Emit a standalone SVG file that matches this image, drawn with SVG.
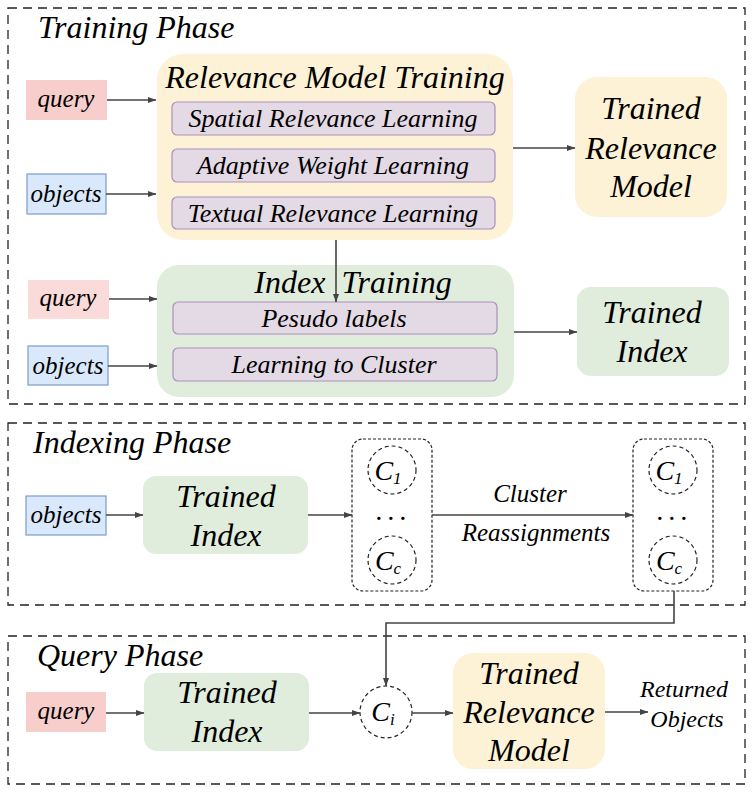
<svg xmlns="http://www.w3.org/2000/svg" width="754" height="795" viewBox="0 0 754 795">
<style>
text{font-family:"Liberation Serif","Times New Roman",serif;font-style:italic;fill:#000;text-anchor:middle}
.phase{fill:none;stroke:#222;stroke-width:1.3;stroke-dasharray:9 6}
.yel{fill:#fdf2d6}
.grn{fill:#e1eddc}
.sub{fill:#e4dae5;stroke:#ab8fbb;stroke-width:1.2}
.qry{fill:#f8cecc}
.obj{fill:#dae8fc;stroke:#7c9cc9;stroke-width:1.2}
.clu{fill:none;stroke:#222;stroke-width:1.2;stroke-dasharray:3 2}
.cir{fill:#fff;stroke:#222;stroke-width:1.2;stroke-dasharray:4 3}
.big{font-size:32px}
.mid{font-size:26px}
.sm{font-size:25px}
.ttl{font-size:32px;text-anchor:start}
.cl{font-size:28px}
.con{fill:none;stroke:#444;stroke-width:1.6;marker-end:url(#ah)}
</style>
<defs>
<marker id="ah" markerWidth="9" markerHeight="8" refX="8.5" refY="4" orient="auto" markerUnits="userSpaceOnUse">
<path d="M0,0.8 L9,4 L0,7.2 Z" fill="#444"/>
</marker>
</defs>

<g id="training-phase">
<rect class="phase" x="8" y="8" width="737" height="396"/>
<text class="ttl" x="38" y="38">Training Phase</text>
</g>
<g id="indexing-phase">
<rect class="phase" x="8" y="423" width="737" height="182"/>
<text class="ttl" x="33" y="453">Indexing Phase</text>
</g>
<g id="query-phase">
<rect class="phase" x="8" y="636" width="737" height="148"/>
<text class="ttl" x="37" y="666">Query Phase</text>
</g>

<g id="query-1">
<rect class="qry" x="26" y="80" width="81" height="40"/>
<text class="sm" x="66" y="107">query</text>
</g>
<g id="objects-1">
<rect class="obj" x="27" y="174" width="79" height="40"/>
<text class="sm" x="66" y="202">objects</text>
</g>
<g id="relevance-model-training">
<rect class="yel" x="157" y="54" width="356" height="186" rx="26"/>
<text class="big" x="335" y="88">Relevance Model Training</text>
<rect class="sub" x="172" y="102" width="323" height="33" rx="5"/>
<text class="mid" x="333" y="127">Spatial Relevance Learning</text>
<rect class="sub" x="172" y="149" width="323" height="33" rx="5"/>
<text class="mid" x="333" y="174">Adaptive Weight Learning</text>
<rect class="sub" x="172" y="197" width="323" height="32" rx="5"/>
<text class="mid" x="333" y="222">Textual Relevance Learning</text>
</g>
<g id="trained-relevance-model-1">
<rect class="yel" x="575" y="77" width="152" height="140" rx="22"/>
<text class="big" x="651" y="119">Trained</text>
<text class="big" x="651" y="159">Relevance</text>
<text class="big" x="651" y="197">Model</text>
</g>

<g id="query-2">
<rect fill="#fadbd9" x="28" y="280" width="81" height="39"/>
<text class="sm" x="68" y="306">query</text>
</g>
<g id="objects-2">
<rect class="obj" x="28" y="346" width="80" height="39"/>
<text class="sm" x="68" y="374">objects</text>
</g>
<g id="index-training">
<rect class="grn" x="157" y="265" width="357" height="132" rx="22"/>
<text class="big" xml:space="preserve" x="353" y="293">Index  Training</text>
<rect class="sub" x="173" y="302" width="324" height="32" rx="5"/>
<text class="mid" x="334" y="327">Pesudo labels</text>
<rect class="sub" x="173" y="348" width="324" height="33" rx="5"/>
<text class="mid" x="334" y="373">Learning to Cluster</text>
</g>
<g id="trained-index-1">
<rect class="grn" x="577" y="287" width="152" height="89" rx="14"/>
<text class="big" x="652" y="323">Trained</text>
<text class="big" x="652" y="362">Index</text>
</g>

<g id="objects-3">
<rect class="obj" x="26" y="496" width="80" height="39"/>
<text class="sm" x="66" y="523">objects</text>
</g>
<g id="trained-index-2">
<rect class="grn" x="143" y="476" width="165" height="78" rx="13"/>
<text class="big" x="226" y="507">Trained</text>
<text class="big" x="226" y="546">Index</text>
</g>
<g id="clusters-1">
<rect class="clu" x="352" y="439" width="80" height="152" rx="11"/>
<circle class="cir" cx="392" cy="470" r="24"/>
<text class="cl" x="388" y="480">C<tspan font-size="17" dy="4">1</tspan></text>
<text font-size="28" letter-spacing="5" x="394" y="520">...</text>
<circle class="cir" cx="392" cy="560" r="24"/>
<text class="cl" x="388" y="570">C<tspan font-size="17" dy="4">c</tspan></text>
</g>
<g id="clusters-2">
<rect class="clu" x="633" y="439" width="80" height="152" rx="11"/>
<circle class="cir" cx="673" cy="470" r="24"/>
<text class="cl" x="669" y="480">C<tspan font-size="17" dy="4">1</tspan></text>
<text font-size="28" letter-spacing="5" x="675" y="520">...</text>
<circle class="cir" cx="673" cy="560" r="24"/>
<text class="cl" x="669" y="570">C<tspan font-size="17" dy="4">c</tspan></text>
</g>

<g id="query-3">
<rect class="qry" x="26" y="692" width="80" height="40"/>
<text class="sm" x="66" y="719">query</text>
</g>
<g id="trained-index-3">
<rect class="grn" x="144" y="673" width="165" height="78" rx="13"/>
<text class="big" x="227" y="703">Trained</text>
<text class="big" x="227" y="742">Index</text>
</g>
<g id="cluster-i">
<circle class="cir" cx="386" cy="712" r="26"/>
<text class="cl" x="383" y="721">C<tspan font-size="17" dy="4">i</tspan></text>
</g>
<g id="trained-relevance-model-2">
<rect class="yel" x="453" y="653" width="152" height="116" rx="20"/>
<text class="big" x="529" y="684">Trained</text>
<text class="big" x="529" y="723">Relevance</text>
<text class="big" x="529" y="761">Model</text>
</g>
<g id="returned-objects">
<text font-size="24" x="684" y="697">Returned</text>
<text font-size="24" x="687" y="727">Objects</text>
</g>

<g id="connectors">
<path class="con" d="M107,100 H156"/>
<path class="con" d="M106,194 H156"/>
<path class="con" d="M513,148 H575"/>
<path class="con" d="M336,240 V302"/>
<path class="con" d="M109,299 H157"/>
<path class="con" d="M108,366 H157"/>
<path class="con" d="M514,332 H577"/>
<path class="con" d="M106,515 H143"/>
<path class="con" d="M308,515 H352"/>
<path class="con" d="M432,515 H633"/>
<path class="con" d="M674,591 V623 H386 V686"/>
<path class="con" d="M106,713 H144"/>
<path class="con" d="M309,713 H360"/>
<path class="con" d="M412,713 H453"/>
<path class="con" d="M605,712 H648"/>
<text class="sm" x="530" y="502">Cluster</text>
<text class="sm" x="536" y="541">Reassignments</text>
</g>
</svg>
